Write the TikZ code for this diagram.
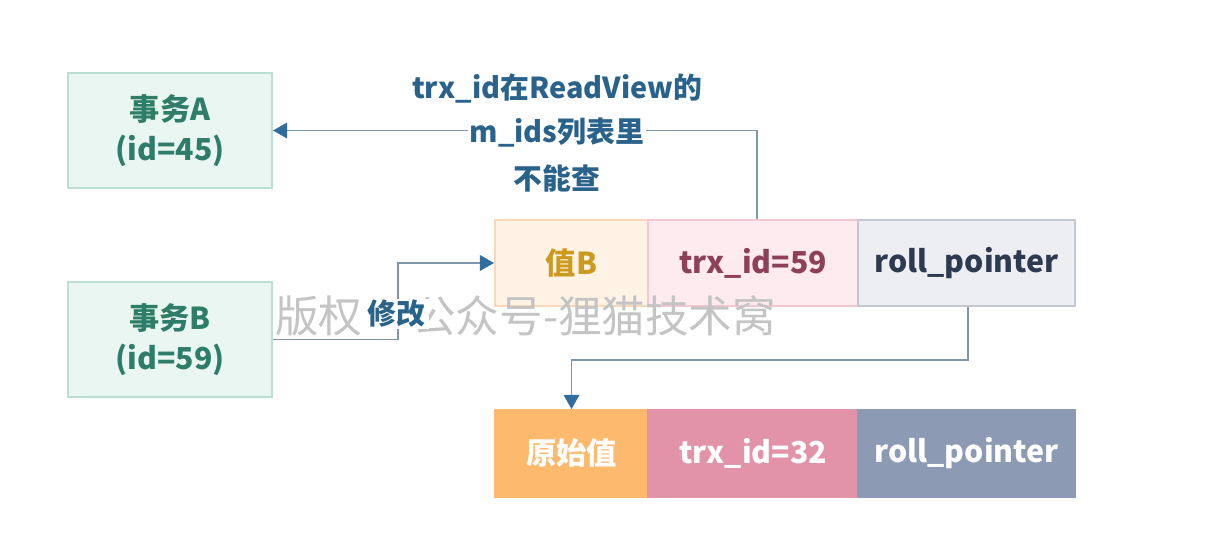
\documentclass[tikz,border=0pt]{standalone}
\usepackage{fontspec}
\setmainfont{Noto Sans CJK SC}
\usetikzlibrary{arrows.meta,calc}
\newcommand{\pxu}{0.025cm}
\definecolor{mintfill}{HTML}{E9F6F2}
\definecolor{mintdraw}{HTML}{B9E0D2}
\definecolor{minttext}{HTML}{2E7D69}
\definecolor{vbfill}{HTML}{FFF3E6}
\definecolor{vbdraw}{HTML}{F8D8B8}
\definecolor{vbtext}{HTML}{CC9A1F}
\definecolor{tfill}{HTML}{FDEBEF}
\definecolor{tdraw}{HTML}{F4C8D3}
\definecolor{ttext}{HTML}{8E3F5A}
\definecolor{rfill}{HTML}{ECEEF2}
\definecolor{rdraw}{HTML}{C3C8D2}
\definecolor{rtext}{HTML}{2E3A4F}
\definecolor{ofill}{HTML}{FDBA6E}
\definecolor{pfill}{HTML}{E293A8}
\definecolor{gfill}{HTML}{8C9BB3}
\definecolor{linec}{HTML}{7F97AB}
\definecolor{headc}{HTML}{2F6E9E}
\definecolor{lbltext}{HTML}{29628A}
\definecolor{wmark}{HTML}{C4C4C4}
\tikzset{
  cell/.style={rectangle, inner sep=0pt, line width=1.4pt, font=\fontsize{21.5pt}{28pt}\selectfont\bfseries, align=center},
  txbox/.style={cell, fill=mintfill, draw=mintdraw, text=minttext, minimum width=204*\pxu, minimum height=115*\pxu},
  conn/.style={draw=linec, line width=1.4pt, -{Triangle[width=11pt,length=10pt,color=headc,fill=headc]}},
  lbl/.style={font=\fontsize{20.5pt}{26pt}\selectfont\bfseries, text=lbltext, inner sep=1pt},
  wm/.style={font=\fontsize{31pt}{36pt}\selectfont, text=wmark, inner sep=0pt}
}
\begin{document}
\begin{tikzpicture}[x=\pxu, y=-\pxu]
\useasboundingbox[fill=white] (0,0) rectangle (1210,548);
% transaction boxes
\node[txbox] (A) at (170,130.5) {事务A\\(id=45)};
\node[txbox] (B) at (170,339.5) {事务B\\(id=59)};
% current record
\node[cell, fill=vbfill, draw=vbdraw, text=vbtext, minimum width=153*\pxu, minimum height=86*\pxu] (vB) at (571.5,263) {值B};
\node[cell, fill=tfill, draw=tdraw, text=ttext, minimum width=210*\pxu, minimum height=86*\pxu] (t59) at (753,263) {trx\_id=59};
\node[cell, fill=rfill, draw=rdraw, text=rtext, minimum width=217*\pxu, minimum height=86*\pxu] (rp1) at (966.5,263) {roll\_pointer};
% undo record
\node[cell, fill=ofill, draw=ofill, text=white, minimum width=153*\pxu, minimum height=87*\pxu] (o) at (571.5,453.5) {原始值};
\node[cell, fill=pfill, draw=pfill, text=white, minimum width=210*\pxu, minimum height=87*\pxu] (t32) at (753,453.5) {trx\_id=32};
\node[cell, fill=gfill, draw=gfill, text=white, minimum width=217*\pxu, minimum height=87*\pxu] (rp2) at (966.5,453.5) {roll\_pointer};
% connectors
\draw[conn] ([xshift=4*\pxu]t59.north) |- (A.east);
\coordinate (m1) at (398,263);
\draw[conn] (B.east) -| (m1) -- (vB.west);
\coordinate (m2) at (968,360);
\draw[conn] ([xshift=1.5*\pxu]rp1.south) |- (m2 -| o.north) -- (o.north);
% watermark
\node[wm, anchor=west] (w1) at (275,316) {版权};
\node[wm, anchor=west] (w2) at (412,316) {公众号-狸猫技术窝};
% labels
\node[lbl] (l1) at (557,89) {trx\_id在ReadView的};
\node[lbl, fill=white] (l2) at (557,133) {m\_ids列表里};
\node[lbl] (l3) at (557,178) {不能查};
\node[lbl, fill=white, inner xsep=3pt] (mod) at (396,314) {修改};
\end{tikzpicture}
\end{document}
